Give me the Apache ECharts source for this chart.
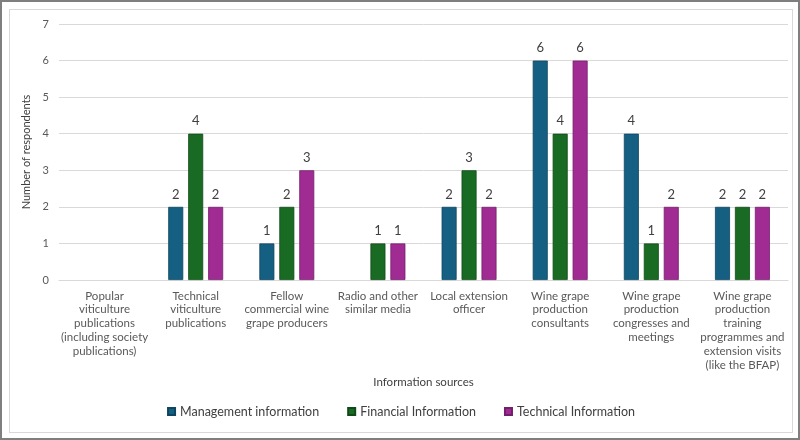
<!DOCTYPE html>
<html lang="en">
<head>
    <meta charset="UTF-8">
    <title>Information sources</title>
    <script src="https://cdn.jsdelivr.net/npm/echarts@6/dist/echarts.min.js"></script>
    <style>
        html, body { margin: 0; padding: 0; background: #fff; }
        #frame { width: 800px; height: 440px; box-sizing: border-box; border: 2px solid #7f7f7f; position: relative; }
        #myChart { position: absolute; left: 7px; top: 7px; width: 784px; height: 424px; box-sizing: border-box; border: 1px solid #d9d9d9; }
    </style>
</head>
<body>
<div id="frame"><div id="myChart"></div></div>
<script>
    var categories = [
        'Popular\nviticulture\npublications\n(including society\npublications)',
        'Technical\nviticulture\npublications',
        'Fellow\ncommercial wine\ngrape producers',
        'Radio and other\nsimilar media',
        'Local extension\nofficer',
        'Wine grape\nproduction\nconsultants',
        'Wine grape\nproduction\ncongresses and\nmeetings',
        'Wine grape\nproduction\ntraining\nprogrammes and\nextension visits\n(like the BFAP)'
    ];
    var management = [null, 2, 1, null, 2, 6, 4, 2];
    var financial = [null, 4, 2, 1, 3, 4, 1, 2];
    var technical = [null, 2, 3, 1, 2, 6, 2, 2];
    var yTicks = [0, 1, 2, 3, 4, 5, 6, 7];

    var font = 'Lato, "Open Sans", sans-serif';

    function bar(name, data, color, border) {
        return {
            name: name,
            type: 'bar',
            data: data,
            barWidth: 15,
            barGap: '33%',
            itemStyle: { color: color, borderColor: border, borderWidth: 0.8 },
            label: { show: true, position: 'top', distance: 6, color: '#404040', fontSize: 13, fontFamily: font }
        };
    }

    var myChart = echarts.init(document.getElementById('myChart'));
    var option = {
        animation: false,
        textStyle: { fontFamily: font },
        grid: { left: 49, right: 4, top: 14, bottom: 152 },
        legend: {
            bottom: 9,
            itemWidth: 7,
            itemHeight: 7,
            itemGap: 28,
            icon: 'rect',
            textStyle: { color: '#404040', fontSize: 12.5, fontFamily: font },
            data: ['Management information', 'Financial Information', 'Technical Information']
        },
        xAxis: {
            type: 'category',
            data: categories,
            name: 'Information sources',
            nameLocation: 'middle',
            nameGap: 96,
            nameTextStyle: { color: '#404040', fontSize: 11.5, fontFamily: font },
            axisLine: { lineStyle: { color: '#d9d9d9' } },
            axisTick: { show: false },
            axisLabel: { interval: 0, color: '#595959', fontSize: 11.5, lineHeight: 13.8, margin: 9, fontFamily: font }
        },
        yAxis: {
            type: 'value',
            min: yTicks[0],
            max: yTicks[yTicks.length - 1],
            interval: 1,
            name: 'Number of respondents',
            nameLocation: 'middle',
            nameGap: 18,
            nameTextStyle: { color: '#404040', fontSize: 11, fontFamily: font },
            splitLine: { lineStyle: { color: '#d9d9d9' } },
            axisLabel: { color: '#595959', fontSize: 11, margin: 10, fontFamily: font }
        },
        series: [
            bar('Management information', management, '#156082', '#0e4560'),
            bar('Financial Information', financial, '#196b24', '#114a19'),
            bar('Technical Information', technical, '#a02b93', '#741f6b')
        ]
    };
    myChart.setOption(option);
</script>
</body>
</html>
